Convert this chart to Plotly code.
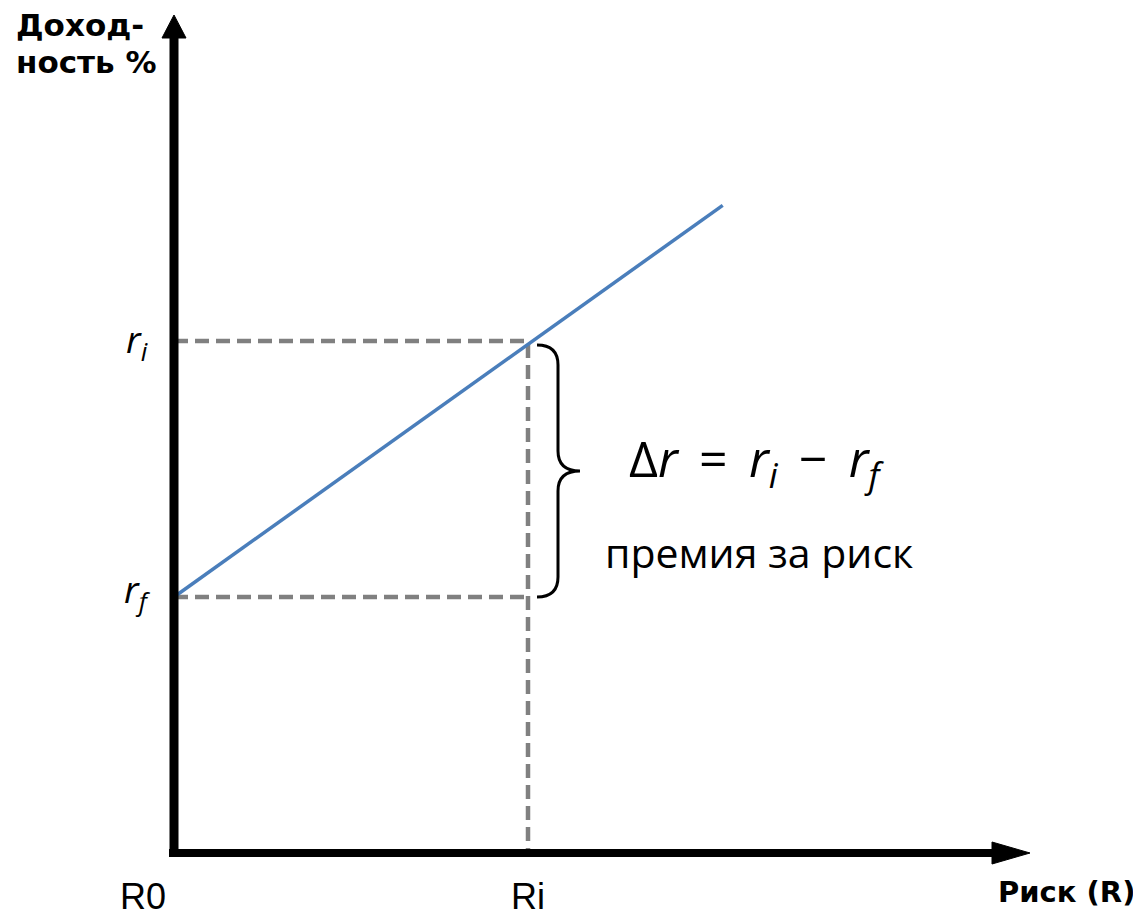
import plotly.graph_objects as go

# risk axis (x) and return axis (y) values
risk_labels = ["R0", "Ri"]
risk_values = [0.0, 1.0]
return_labels = ["<i>r<sub>f</sub></i>", "<i>r<sub>i</sub></i>"]
return_values = [1.0, 2.0]

# security market line
line_x = [0.0, 1.55]
line_y = [1.0, 2.53]

r0, Ri = risk_values
rf, ri = return_values

# window pixels <-> data helpers (page body adds an 8px margin)
W, H = 1141, 916
OFF = 8
FW, FH = W - OFF, H - OFF
X0, Y0 = 174, 853      # window pixel of the origin
PX_X, PX_Y = 354, 256  # pixels per data unit


def dx(px):
    return (px - X0) / PX_X


def dy(py):
    return (Y0 - py) / PX_Y


def xp(px):
    return (px - OFF) / FW


def yp(py):
    return 1 - (py - OFF) / FH


fig = go.Figure()

# dashed guides
guide = dict(color="#808080", width=4.5, dash="14px,7px")
fig.add_trace(go.Scatter(x=[r0, Ri, Ri], y=[ri, ri, 0], mode="lines", line=guide, hoverinfo="skip"))
fig.add_trace(go.Scatter(x=[r0, Ri], y=[rf, rf], mode="lines", line=guide, hoverinfo="skip"))

# blue line
fig.add_trace(go.Scatter(x=line_x, y=line_y, mode="lines",
                         line=dict(color="#4a7ebb", width=3.5), hoverinfo="skip"))

# axes with arrowheads
fig.add_shape(type="line", x0=0, y0=dy(857), x1=0, y1=dy(37), line=dict(color="black", width=9))
fig.add_shape(type="line", x0=dx(169), y0=0, x1=dx(993), y1=0, line=dict(color="black", width=8))
fig.add_shape(type="path", fillcolor="black", line=dict(color="black", width=1),
              path=f"M {dx(162)},{dy(38)} L {dx(174)},{dy(15)} L {dx(186)},{dy(38)} Z")
fig.add_shape(type="path", fillcolor="black", line=dict(color="black", width=1),
              path=f"M {dx(992)},{dy(842)} L {dx(1030)},{dy(853)} L {dx(992)},{dy(864)} Z")

# curly brace between rf and ri
bx, tip = 558, 580
top, bot = 345, 597
mid = (top + bot) / 2
brace = (f"M {dx(537)},{dy(top)} Q {dx(bx)},{dy(top)} {dx(bx)},{dy(top + 20)} "
         f"L {dx(bx)},{dy(mid - 20)} Q {dx(bx)},{dy(mid)} {dx(tip)},{dy(mid)} "
         f"Q {dx(bx)},{dy(mid)} {dx(bx)},{dy(mid + 20)} "
         f"L {dx(bx)},{dy(bot - 20)} Q {dx(bx)},{dy(bot)} {dx(537)},{dy(bot)}")
fig.add_shape(type="path", path=brace, line=dict(color="black", width=3))

# tick-like labels
for lab, v, xs in zip(risk_labels, risk_values, [-31, 0]):
    fig.add_annotation(x=v, y=0, text=lab, showarrow=False, xanchor="center", yanchor="middle",
                       xshift=xs, yshift=-43,
                       font=dict(family="Liberation Sans, Arial", size=36, color="black"))
for lab, v, ys in zip(return_labels, return_values, [6, 0]):
    fig.add_annotation(x=0, y=v, text=lab, showarrow=False, xanchor="center", yanchor="middle",
                       xshift=-37, yshift=ys,
                       font=dict(family="Open Sans", size=37, color="black"))

# axis titles
bold = dict(family="DejaVu Sans", size=31, color="black")
fig.add_annotation(x=xp(14), y=yp(25), xref="paper", yref="paper", text="<b>Доход-</b>",
                   showarrow=False, xanchor="left", yanchor="middle", font=bold)
fig.add_annotation(x=xp(14), y=yp(62), xref="paper", yref="paper", text="<b>ность %</b>",
                   showarrow=False, xanchor="left", yanchor="middle", font=bold)
fig.add_annotation(x=xp(1137), y=yp(892), xref="paper", yref="paper", text="<b>Риск (R)</b>",
                   showarrow=False, xanchor="right", yanchor="middle",
                   font=dict(family="DejaVu Sans", size=29, color="black"))

# formula and caption
sp = "\u00a0\u2009"
formula = f"Δ<i>r</i>{sp}={sp}<i>r<sub>i</sub></i>{sp}−{sp}<i>r<sub>f</sub></i>"
fig.add_annotation(x=dx(756), y=dy(461), text=formula,
                   showarrow=False, xanchor="center", yanchor="middle",
                   font=dict(family="Open Sans", size=50, color="black"))
fig.add_annotation(x=dx(759), y=dy(552), text="премия за риск",
                   showarrow=False, xanchor="center", yanchor="middle",
                   font=dict(family="Open Sans", size=41, color="black"))

fig.update_layout(
    width=FW, height=FH,
    margin=dict(l=0, r=0, t=0, b=0),
    paper_bgcolor="white", plot_bgcolor="white",
    showlegend=False,
    xaxis=dict(range=[dx(OFF), dx(W)], visible=False, fixedrange=True),
    yaxis=dict(range=[dy(H), dy(OFF)], visible=False, fixedrange=True),
)

fig.write_html("out.html")
